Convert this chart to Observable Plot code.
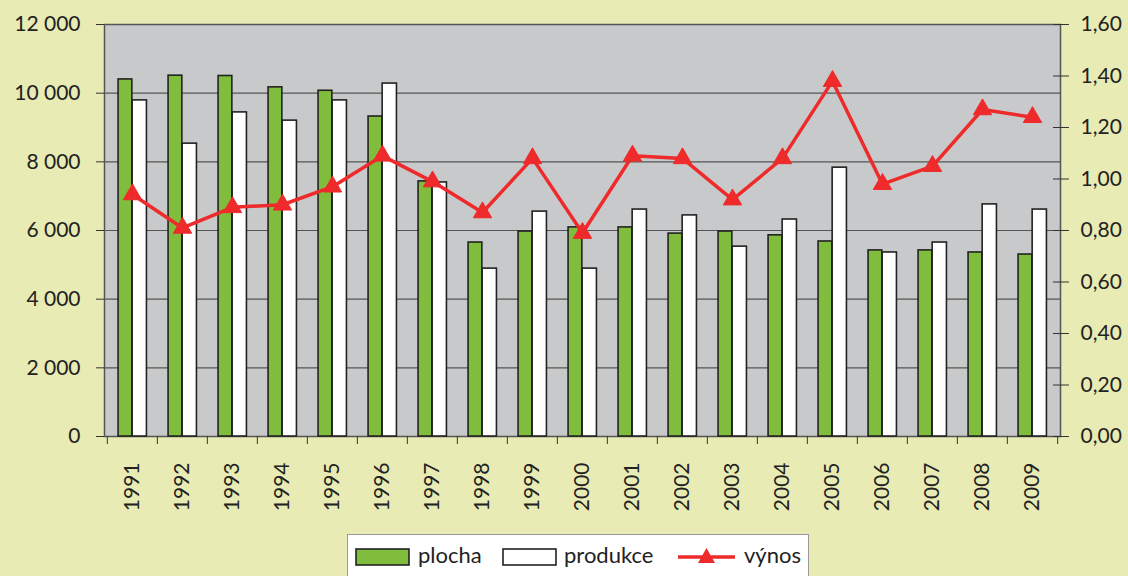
<!DOCTYPE html>
<html>
<head>
<meta charset="utf-8">
<script src="https://cdn.jsdelivr.net/npm/d3@7"></script>
<script src="https://cdn.jsdelivr.net/npm/@observablehq/plot@0.6"></script>
<style>
  html, body { margin: 0; padding: 0; background: #e8ebb3; }
  #wrap { position: relative; width: 1128px; height: 576px; overflow: hidden; font-family: Lato, "DejaVu Sans", sans-serif; color: #222; }
  #legend { position: absolute; left: 347px; top: 534px; width: 462px; height: 50px; background: #fff; border: 1px solid #999; box-sizing: border-box; font-size: 22px; }
  #legend .sw { position: absolute; top: 10px; }
  #legend .lb { position: absolute; top: 7px; line-height: 26px; }
</style>
</head>
<body>
<div id="wrap">
  <div id="chart"></div>
  <div id="legend"></div>
</div>
<script>
const years = ["1991","1992","1993","1994","1995","1996","1997","1998","1999","2000","2001","2002","2003","2004","2005","2006","2007","2008","2009"];
const plocha = [10400, 10510, 10500, 10170, 10070, 9320, 7430, 5650, 5970, 6090, 6090, 5910, 5970, 5860, 5680, 5420, 5420, 5360, 5300];
const produkce = [9790, 8530, 9440, 9200, 9790, 10280, 7400, 4890, 6550, 4890, 6610, 6440, 5530, 6320, 7830, 5360, 5650, 6760, 6610];
const vynos = [0.94, 0.81, 0.89, 0.90, 0.97, 1.09, 0.99, 0.87, 1.08, 0.79, 1.09, 1.08, 0.92, 1.08, 1.38, 0.98, 1.05, 1.27, 1.24];
const leftTicks = [0, 2000, 4000, 6000, 8000, 10000, 12000];
const rightTicks = [0, 0.2, 0.4, 0.6, 0.8, 1.0, 1.2, 1.4, 1.6];
const seriesNames = ["plocha", "produkce", "výnos"];

const colGreen = "#80bd3c", colRed = "#ee2a2b", colPlot = "#c8c9cb";
const W = 1128, H = 530, mL = 104, mR = 68, mT = 24, mB = 94;
const bw = (W - mL - mR) / years.length;
const k = 12000 / 1.6;

const data = years.map((y, i) => ({year: y, plocha: plocha[i], produkce: produkce[i], vynos: vynos[i] * k}));

const fmtLeft = v => v === 0 ? "0" : d3.format(",")(v).replace(/,/g, "\u2009\u2009");
const fmtRight = v => (v / k).toFixed(2).replace(".", ",");

const chart = Plot.plot({
  width: W, height: H,
  marginLeft: mL, marginRight: mR, marginTop: mT, marginBottom: mB,
  x: {type: "band", domain: years, padding: 0, axis: null},
  y: {domain: [0, 12000], axis: null},
  style: {fontFamily: "Lato, 'DejaVu Sans', sans-serif", fontSize: "21px", color: "#222", background: "transparent", overflow: "visible"},
  marks: [
    Plot.frame({fill: colPlot, stroke: null}),
    Plot.gridY(leftTicks, {stroke: "#555", strokeOpacity: 1, strokeWidth: 1.2}),
    Plot.frame({stroke: "#555", strokeWidth: 1.5}),
    Plot.barY(data, {x: "year", y: "plocha", fill: colGreen, stroke: "#222", strokeWidth: 1.6, insetLeft: bw * 0.22, insetRight: bw * 0.50}),
    Plot.barY(data, {x: "year", y: "produkce", fill: "#fff", stroke: "#222", strokeWidth: 1.6, insetLeft: bw * 0.50, insetRight: bw * 0.21}),
    Plot.line(data, {x: "year", y: "vynos", stroke: colRed, strokeWidth: 3.5}),
    Plot.dot(data, {x: "year", y: "vynos", symbol: "triangle", r: 6.8, fill: colRed, stroke: colRed, strokeWidth: 1}),
    Plot.axisY({ticks: leftTicks, tickSize: 8, tickPadding: 16, tickFormat: fmtLeft, fontSize: 21, stroke: "#333", label: null}),
    Plot.axisY({anchor: "right", ticks: rightTicks.map(v => v * k), tickSize: 8, tickPadding: 12, tickFormat: fmtRight, fontSize: 21, stroke: "#333", label: null}),
    Plot.axisY({anchor: "right", ticks: rightTicks.map(v => v * k), tickSize: 8, tickFormat: () => "", dx: -8, stroke: "#333", label: null}),
    Plot.axisX({ticks: years, tickSize: 8, tickFormat: () => "", dx: -bw / 2, stroke: "#333", label: null}),
    Plot.axisX({ticks: [years[years.length - 1]], tickSize: 8, tickFormat: () => "", dx: bw / 2, stroke: "#333", label: null}),
    Plot.axisX({ticks: years, tickSize: 0, tickPadding: 26, tickRotate: -90, fontSize: 21, label: null})
  ]
});
document.getElementById("chart").appendChild(chart);

// legend
const legend = document.getElementById("legend");
const swatches = [
  `<svg width="56" height="20"><rect x="1" y="2" width="53" height="16" fill="${colGreen}" stroke="#222" stroke-width="1.6"/></svg>`,
  `<svg width="56" height="20"><rect x="1" y="2" width="53" height="16" fill="#fff" stroke="#222" stroke-width="1.6"/></svg>`,
  `<svg width="60" height="20"><line x1="1" y1="10" x2="58" y2="10" stroke="${colRed}" stroke-width="3.5"/><path d="M29.5,1 L38,16 L21,16 Z" fill="${colRed}"/></svg>`
];
const swX = [7, 154, 329], lbX = [70, 216, 396];
seriesNames.forEach((name, i) => {
  const s = document.createElement("div");
  s.className = "sw"; s.style.left = swX[i] + "px"; s.innerHTML = swatches[i];
  legend.appendChild(s);
  const t = document.createElement("div");
  t.className = "lb"; t.style.left = lbX[i] + "px"; t.textContent = name;
  legend.appendChild(t);
});
</script>
</body>
</html>
